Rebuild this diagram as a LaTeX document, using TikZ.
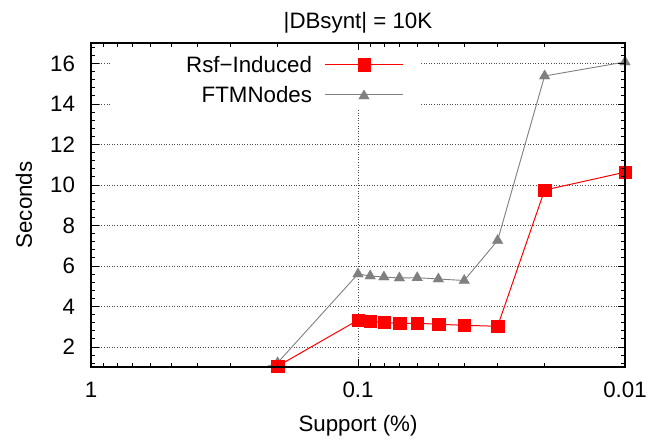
\documentclass[tikz,border=0pt]{standalone}
\usepackage{fontspec}
\setmainfont{Liberation Sans}
\usetikzlibrary{plotmarks}
\begin{document}
\begin{tikzpicture}[x=1pt,y=-1pt,
  every node/.style={font=\fontsize{22.3}{26}\selectfont, inner sep=0pt, outer sep=0pt},
  gridline/.style={black!70, line width=0.8pt, dash pattern=on 1pt off 1.6pt},
  tickline/.style={black, line width=0.8pt},
  frameline/.style={black, line width=1.1pt},
  redline/.style={red, line width=1pt},
  greyline/.style={gray, line width=0.9pt},
  redmarks/.style={mark=square*, mark size=6.2pt, mark options={solid, draw=red, fill=red, line width=0.2pt}},
  greymarks/.style={mark=triangle*, mark size=6.2pt, mark options={solid, draw=gray, fill=gray, line width=0.2pt}}]
\useasboundingbox (0,0) rectangle (651,443);

% grid
\foreach \v in {2,4,...,12} {
  \draw[gridline] (91,{387.5-20.25*\v}) -- (625,{387.5-20.25*\v});
}
\foreach \v in {14,16} {
  \draw[gridline] (91,{387.5-20.25*\v}) -- (110,{387.5-20.25*\v});
  \draw[gridline] (421,{387.5-20.25*\v}) -- (625,{387.5-20.25*\v});
}
\draw[gridline] (358,110) -- (358,367);

% data: FTMNodes
\coordinate (gstart) at (265.5,367);
\draw[greyline] (gstart) -- (277.6,362.8);
\draw[greyline, greymarks] plot coordinates {(277.6,362.8) (358,274) (370.2,276) (383.9,277) (399.4,278) (417.2,277.7) (438.4,279) (464.2,280.5) (497.6,240.5) (544.6,76) (625,62)};
% data: Rsf-Induced
\draw[redline, redmarks] plot coordinates {(277.6,366.2) (358,320.1) (370.2,321.3) (383.9,322.3) (399.4,323.3) (417.2,323.3) (438.4,324.3) (464.2,325.3) (497.6,326.3) (544.6,190.1) (625,172.2)};

% y ticks
\foreach \v in {1.2,1.6,...,16.9} {
  \draw[tickline] (91,{387.5-20.25*\v}) -- ++(4,0);
  \draw[tickline] (625,{387.5-20.25*\v}) -- ++(-4,0);
}
\foreach \v in {2,4,...,16} {
  \draw[tickline] (91,{387.5-20.25*\v}) -- ++(7.5,0);
  \draw[tickline] (625,{387.5-20.25*\v}) -- ++(-7.5,0);
  \node[anchor=base east] (yl\v) at (75,{387.5-20.25*\v+7.9}) {\v};
}
% x ticks
\foreach \o in {12.2,25.9,41.4,59.2,80.4,106.2,139.6,186.6} {
  \foreach \d in {0,267} {
    \draw[tickline] ({91+\o+\d},367) -- ++(0,-4);
    \draw[tickline] ({91+\o+\d},43) -- ++(0,4);
  }
}
\draw[tickline] (358,367) -- ++(0,-7.5);
\draw[tickline] (358,43) -- ++(0,7.5);

% frame
\draw[frameline] (91,43) rectangle (625,367);

% x tick labels
\node[anchor=base] (xl1) at (91,398) {1};
\node[anchor=base] (xl2) at (358,398) {0.1};
\node[anchor=base] (xl3) at (625,398) {0.01};

% axis labels and title
\node[anchor=base] (title) at (358,29) {|DBsynt| = 10K};
\node[anchor=base] (xlabel) at (358,432) {Support (\%)};
\node[rotate=90] (ylabel) at (24,205) {Seconds};

% legend
\node[anchor=base east] (leg1) at (312,73) {Rsf−Induced};
\node[anchor=base east] (leg2) at (312,102.5) {FTMNodes};
\coordinate (l1a) at (325,64.5);
\coordinate (l1b) at (403,64.5);
\coordinate (l2a) at (325,94.5);
\coordinate (l2b) at (403,94.5);
\draw[redline] (l1a) -- (l1b);
\draw[greyline] (l2a) -- (l2b);
\path[redmarks] plot coordinates {(364,64.5)};
\path[greymarks] plot coordinates {(364,96)};
\end{tikzpicture}
\end{document}
